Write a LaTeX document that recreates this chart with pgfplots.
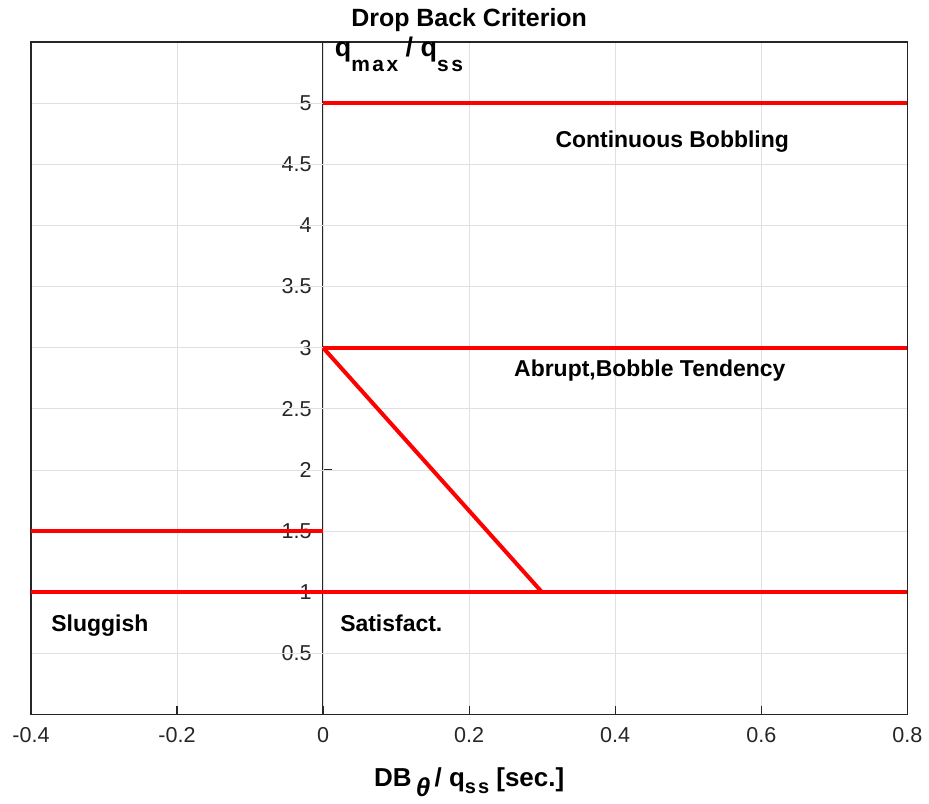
\documentclass[border=0pt]{standalone}
\usepackage{fontspec}
\setmainfont{Liberation Sans}
\usepackage{pgfplots}
\pgfplotsset{compat=1.18}
\definecolor{axgray}{RGB}{38,38,38}
\begin{document}
\begin{tikzpicture}
\begin{axis}[name=A, scale only axis, width=439pt, height=337pt,
  xmin=-0.4, xmax=0.8, ymin=0, ymax=5.5,
  xtick={-0.4,-0.2,0,0.2,0.4,0.6,0.8},
  xticklabels={-0.4,-0.2,0,0.2,0.4,0.6,0.8},
  ytick={0.5,1,1.5,2,2.5,3,3.5,4,4.5,5}, yticklabels={},
  ytick style={draw=none},
  xtick pos=lower, tick align=inside, major tick length=4.5pt,
  grid=major, grid style={line width=0.5pt, color=black!12},
  axis line style={line width=0.6pt, axgray},
  x tick style={line width=0.6pt, axgray},
  xticklabel style={font=\fontsize{10.8}{12}\selectfont, text=axgray, yshift=-3pt},
]
\end{axis}
\begin{axis}[at={(A.south east)}, anchor=south east, scale only axis,
  width=292.667pt, height=337pt,
  xmin=0, xmax=0.8, ymin=0, ymax=5.5, set layers, clip=false,
  axis x line=none, axis y line*=left,
  y axis line style={-, line width=0.6pt, axgray},
  ytick={0.5,1,1.5,2,2.5,3,3.5,4,4.5,5},
  yticklabels={0.5,1,1.5,2,2.5,3,3.5,4,4.5,5},
  xtick=\empty,
  tick align=inside, major tick length=4.5pt,
  y tick style={line width=0.6pt, axgray},
  yticklabel style={font=\fontsize{10.8}{12}\selectfont, text=axgray, anchor=east, inner sep=0pt, xshift=-5.5pt},
]
\addplot[red, line width=2pt] coordinates {(-0.4,1.5) (0,1.5)};
\addplot[red, line width=2pt] coordinates {(-0.4,1) (0.8,1)};
\addplot[red, line width=2pt] coordinates {(0,3) (0.8,3)};
\addplot[red, line width=2pt] coordinates {(0,5) (0.8,5)};
\addplot[red, line width=2pt] coordinates {(0,3) (0.3,1)};
\node[anchor=base, font=\bfseries\fontsize{11.5}{13}\selectfont] at (axis cs:0.478,4.64) {Continuous Bobbling};
\node[anchor=base, font=\bfseries\fontsize{11.5}{13}\selectfont] at (axis cs:0.4474,2.764) {Abrupt,Bobble Tendency};
\node[anchor=base, font=\bfseries\fontsize{11.5}{13}\selectfont] at (axis cs:-0.3057,0.683) {Sluggish};
\node[anchor=base, font=\bfseries\fontsize{11.5}{13}\selectfont] at (axis cs:0.0934,0.683) {Satisfact.};
\node[anchor=base west, inner sep=0pt, font=\bfseries\fontsize{13.5}{15}\selectfont] at (axis cs:0.0155,5.38)
  {q\raisebox{-7.5pt}{\fontsize{10.5}{11}\selectfont\addfontfeature{LetterSpace=12} max} / q\raisebox{-7.5pt}{\fontsize{10.5}{11}\selectfont\addfontfeature{LetterSpace=12} ss}};
\end{axis}
\node[anchor=base, font=\bfseries\fontsize{12.5}{14}\selectfont] at ([yshift=7.5pt]A.north) {Drop Back Criterion};
\node[anchor=base, font=\bfseries\fontsize{13}{15}\selectfont] at ([yshift=-36pt]A.south)
  {DB\,\raisebox{-5pt}{\itshape θ}\,/ q\raisebox{-3.5pt}{\fontsize{10}{11}\selectfont\addfontfeature{LetterSpace=10} ss} [sec.]};
\path ([xshift=-15.5pt,yshift=-44.5pt]A.south west) rectangle ([xshift=10pt,yshift=21pt]A.north east);
\end{tikzpicture}
\end{document}
